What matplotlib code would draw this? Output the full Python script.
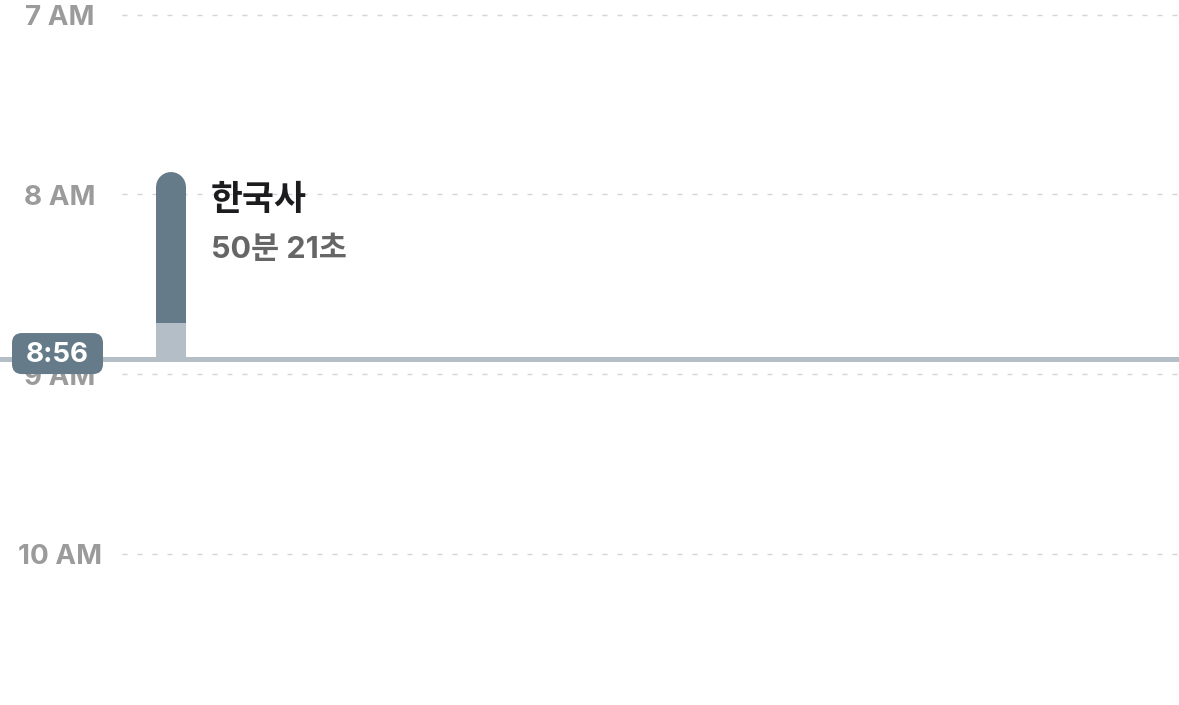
import matplotlib
matplotlib.use('Agg')
import matplotlib.pyplot as plt
from matplotlib.patches import FancyBboxPatch

plt.rcParams['font.family'] = ['Inter', 'Noto Sans CJK KR', 'DejaVu Sans']
plt.rcParams['lines.scale_dashes'] = False

# 데이터
hours = [7, 8, 9, 10]
hour_labels = ['7 AM', '8 AM', '9 AM', '10 AM']
subject = '한국사'
duration_label = '50분 21초'
session_start = (7, 52, 39)      # 시, 분, 초
session_seconds = 50 * 60 + 21
now = (8, 56)
now_label = '8:56'


def to_min(h, m=0, s=0):
    # 오전 7시 기준 분
    return (h - 7) * 60 + m + s / 60


start = to_min(*session_start)
end = start + session_seconds / 60
now_m = to_min(*now)

DARK = '#667b89'
LIGHT = '#b3bec6'
GRID = '#d4d4d4'
LABEL = '#9b9b9b'
PX_PER_MIN = 2.995

fig = plt.figure(figsize=(11.79, 7.05), dpi=100)
ax = fig.add_axes([0, 0, 1, 1])
ax.set_xlim(0, 1179)
ax.set_ylim(230.5, -4.9)
ax.axis('off')

# 시간 눈금
for h, lab in zip(hours, hour_labels):
    y = to_min(h)
    ax.plot([122, 1179], [y, y], color=GRID, lw=1.0, linestyle=(0, (3.6, 7.2)), zorder=1)
    ax.text(60, y + 1.2, lab, ha='center', va='center', fontsize=20, fontweight='bold',
            color=LABEL, zorder=2)

# 공부 막대 (위쪽 둥근 모서리)
bar_x = 171
bar_w = 30
r_min = 5.0
ax.bar(bar_x, end - (start + r_min), bottom=start + r_min, width=bar_w,
       color=DARK, zorder=3, linewidth=0)
ax.plot([bar_x, bar_x], [start + r_min, start + r_min + 2], color=DARK,
        lw=bar_w * 0.72, solid_capstyle='round', zorder=3)
ax.bar(bar_x, now_m - end, bottom=end, width=bar_w, color=LIGHT, zorder=3, linewidth=0)

# 현재 시각 선
ax.axhspan(now_m - 1.7, now_m, color=LIGHT, zorder=2.5, linewidth=0)

# 라벨
ax.text(211, start + 9.6, subject, ha='left', va='center', fontsize=25,
        fontweight='bold', color='#1c1c1e', zorder=4)
ax.text(211, start + 25.8, duration_label, ha='left', va='center', fontsize=22,
        fontweight='bold', color='#666666', zorder=4)

# 현재 시각 배지
badge = FancyBboxPatch((12, now_m - 9.7), 91, 13.7,
                       boxstyle='round,pad=0,rounding_size=10',
                       mutation_aspect=1 / PX_PER_MIN,
                       fc=DARK, ec='none', zorder=5)
ax.add_patch(badge)
ax.text(57.5, now_m - 2.2, now_label, ha='center', va='center', fontsize=20,
        fontweight='bold', color='white', zorder=6)

fig.savefig('out.png', dpi=100)
